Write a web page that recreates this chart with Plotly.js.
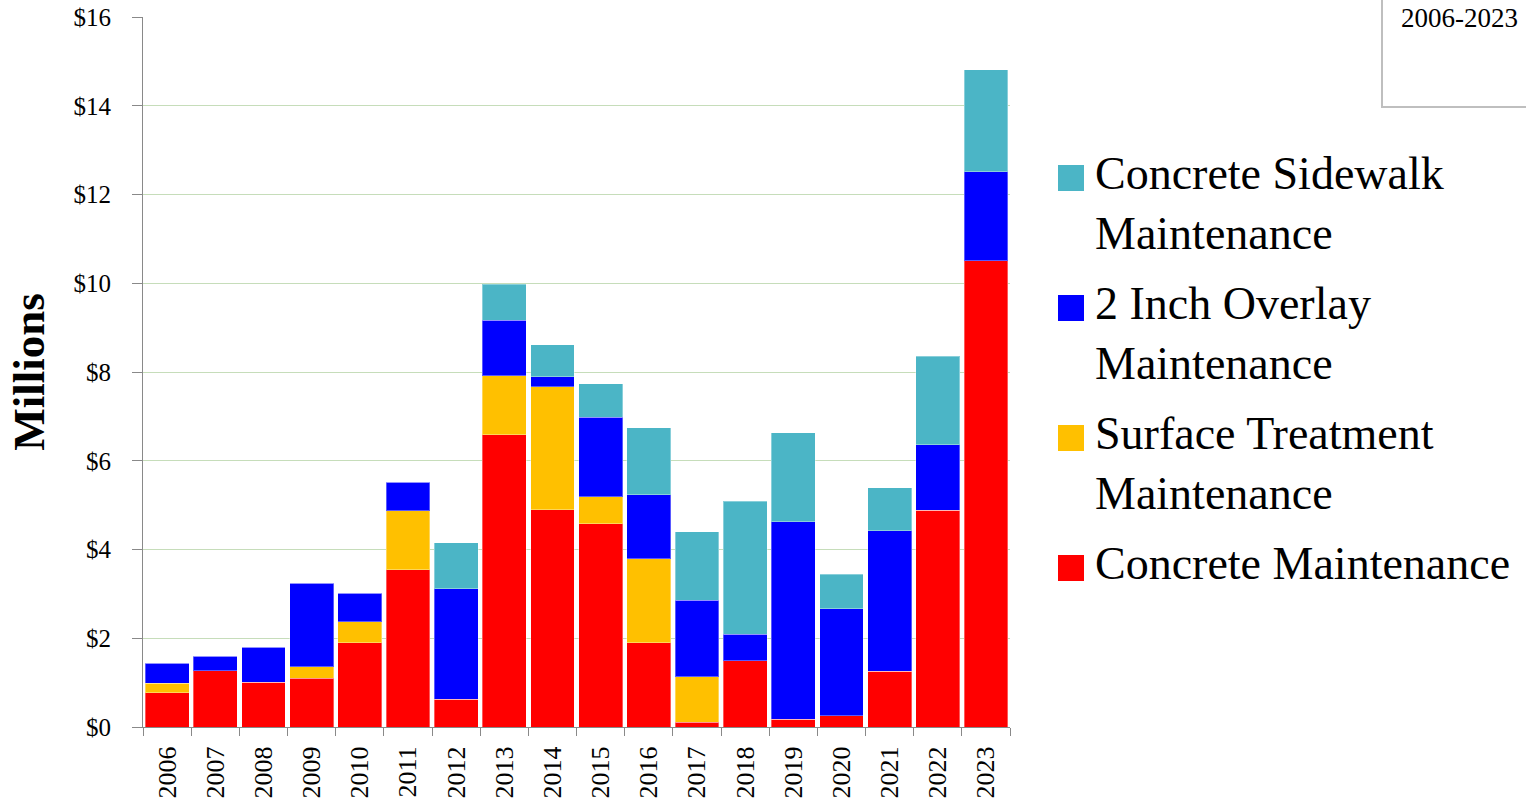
<!DOCTYPE html>
<html>
<head>
<meta charset="utf-8">
<script src="https://cdn.plot.ly/plotly-3.0.1.min.js"></script>
<style>html,body{margin:0;padding:0;background:#fff;}#chart{width:1526px;height:804px;}</style>
</head>
<body>
<div id="chart"></div>
<script>
// ---- data (millions of dollars) ----
const years = ['2006','2007','2008','2009','2010','2011','2012','2013','2014','2015','2016','2017','2018','2019','2020','2021','2022','2023'];
const concreteMaintenance = [0.77,1.27,1.01,1.10,1.90,3.54,0.63,6.59,4.90,4.58,1.90,0.11,1.49,0.18,0.25,1.26,4.88,10.51];
const surfaceTreatment    = [0.22,0,0,0.26,0.47,1.33,0,1.32,2.77,0.61,1.89,1.02,0,0,0,0,0,0];
const overlay2Inch        = [0.45,0.33,0.79,1.88,0.64,0.65,2.48,1.26,0.22,1.79,1.44,1.73,0.60,4.44,2.42,3.16,1.48,2.00];
const concreteSidewalk    = [0,0,0,0,0,0,1.04,0.81,0.72,0.75,1.51,1.54,3.00,2.01,0.77,0.97,2.00,2.30];
const seriesNames = ['Concrete Maintenance','Surface Treatment<br>Maintenance','2 Inch Overlay<br>Maintenance','Concrete Sidewalk<br>Maintenance'];
const seriesColors = ['#FF0000','#FFC000','#0000FF','#4BB5C6'];
const seriesValues = [concreteMaintenance, surfaceTreatment, overlay2Inch, concreteSidewalk];
const yTickVals = [0,2,4,6,8,10,12,14,16];
const yTickText = ['$0','$2','$4','$6','$8','$10','$12','$14','$16'];
const boxText = '2006-2023';

const FONT = 'Liberation Serif, Times New Roman, serif';
const W = 1526, H = 804;
const L = 143, R = 1010, T = 17, B = 727;
const px = x => (x - L) / (R - L);
const py = y => (B - y) / (B - T);

const traces = seriesValues.map((vals, i) => ({
  type: 'bar', x: years, y: vals, name: seriesNames[i],
  marker: {color: seriesColors[i], line: {color: 'rgba(255,255,255,0.35)', width: 1}},
  showlegend: false, hoverinfo: 'x+y'
}));

// custom legend (top item = top of stack)
const shapes = [];
const annotations = [];
const legendOrder = [3,2,1,0];
legendOrder.forEach((si, k) => {
  const base = 191 + k * 130;
  shapes.push({type:'rect', xref:'paper', yref:'paper',
    x0: px(1058), x1: px(1084), y0: py(base), y1: py(base - 26),
    fillcolor: seriesColors[si], line: {width: 0}});
  annotations.push({xref:'paper', yref:'paper', x: px(1093), y: py(base - 45),
    xanchor:'left', yanchor:'top', align:'left', showarrow:false,
    text: seriesNames[si], font:{family: FONT, size: 46, color:'#000'}});
});
// partially visible box at top right
shapes.push({type:'rect', xref:'paper', yref:'paper',
  x0: px(1382), x1: px(1540), y0: py(107), y1: py(-20),
  fillcolor:'rgba(0,0,0,0)', line:{color:'#BFBFBF', width:2}});
annotations.push({xref:'paper', yref:'paper', x: px(1399), y: py(35),
  xanchor:'left', yanchor:'bottom', showarrow:false, align:'left',
  text: boxText, font:{family: FONT, size: 27, color:'#000'}});

const layout = {
  width: W, height: H,
  margin: {l: L, r: W - R, t: T, b: H - B, pad: 0},
  paper_bgcolor: '#fff', plot_bgcolor: '#fff',
  barmode: 'stack', bargap: 0.09,
  font: {family: FONT, color: '#000'},
  showlegend: false,
  xaxis: {
    type: 'category', tickangle: -90, tickson: 'boundaries',
    ticks: 'outside', ticklen: 8, tickcolor: '#898989', tickwidth: 1,
    showline: true, linecolor: '#898989', linewidth: 1,
    showgrid: false, tickfont: {family: FONT, size: 26, color: '#000'},
    ticklabelstandoff: 8, automargin: false
  },
  yaxis: {
    range: [0, 16], tickvals: yTickVals, ticktext: yTickText,
    ticks: 'outside', ticklen: 10, tickcolor: '#898989',
    showline: true, linecolor: '#898989', linewidth: 1,
    showgrid: true, gridcolor: '#C6DDBA', gridwidth: 1, zeroline: false,
    tickfont: {family: FONT, size: 25, color: '#000'},
    ticklabelstandoff: 16, automargin: false,
    title: {text: '<b>Millions</b>', font: {family: FONT, size: 45, color: '#000'}, standoff: 14}
  },
  shapes: shapes,
  annotations: annotations
};

Plotly.newPlot('chart', traces, layout, {displayModeBar: false, staticPlot: true});
</script>
</body>
</html>
